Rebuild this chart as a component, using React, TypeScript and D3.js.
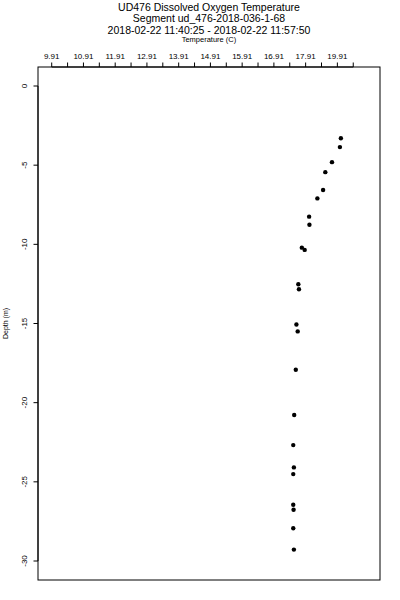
import React from 'react'
import { scaleLinear } from 'd3'

// readings off the profile, top to bottom
const depth = [
	-3.3, -3.86, -4.81, -5.44, -6.57, -7.1, -8.25, -8.76, -10.21, -10.35, -12.52,
	-12.84, -15.06, -15.5, -17.92, -20.78, -22.68, -24.09, -24.51, -26.45, -26.76,
	-27.93, -29.28,
]
const temperature = [
	19.02, 18.99, 18.74, 18.53, 18.46, 18.28, 18.02, 18.03, 17.79, 17.88, 17.68,
	17.7, 17.62, 17.66, 17.6, 17.55, 17.52, 17.54, 17.52, 17.52, 17.53, 17.52,
	17.54,
]
const xTicks = [
	9.91, 10.41, 10.91, 11.41, 11.91, 12.41, 12.91, 13.41, 13.91, 14.41, 14.91,
	15.41, 15.91, 16.41, 16.91, 17.41, 17.91, 18.41, 18.91, 19.41,
]
const xLabelAt = [9.91, 10.91, 11.91, 12.91, 13.91, 14.91, 15.91, 16.91, 17.91, 18.91]
const xLabels = ['9.91', '10.91', '11.91', '12.91', '13.91', '14.91', '15.91', '16.91', '17.91', '19.91']
const yTicks = [0, -5, -10, -15, -20, -25, -30]

const titles = [
	'UD476 Dissolved Oxygen Temperature',
	'Segment ud_476-2018-036-1-68',
	'2018-02-22 11:40:25 - 2018-02-22 11:57:50',
]

export default function App() {
	const width = 400
	const height = 600
	const left = 38
	const right = 380
	const top = 67
	const bottom = 580
	const font = 'Liberation Sans, Arial, Helvetica, sans-serif'

	const x = scaleLinear().domain([9.478, 20.253]).range([left, right])
	const y = scaleLinear().domain([1.2, -31.2]).range([top, bottom])
	const cx = (left + right) / 2
	const cy = (top + bottom) / 2

	return (
		<svg
			width={width}
			height={height}
			style={{ position: 'absolute', left: 0, top: 0, background: '#fff' }}
			fontFamily={font}
		>
			<rect x={0} y={0} width={width} height={height} fill="#fff" />
			{titles.map((t, i) => (
				<text key={t} x={cx} y={11 + i * 11.3} textAnchor="middle" fontSize={10.5}>
					{t}
				</text>
			))}
			<text x={cx} y={42} textAnchor="middle" fontSize={7.5}>
				Temperature (C)
			</text>

			{/* top axis */}
			<line
				x1={x(xTicks[0])}
				x2={x(xTicks[xTicks.length - 1])}
				y1={top}
				y2={top}
				stroke="#000"
			/>
			{xTicks.map((t) => (
				<line key={t} x1={x(t)} x2={x(t)} y1={top} y2={top - 4.5} stroke="#000" />
			))}
			{xLabelAt.map((t, i) => (
				<text key={t} x={x(t)} y={58.5} textAnchor="middle" fontSize={8}>
					{xLabels[i]}
				</text>
			))}

			{/* left axis */}
			<line x1={left} x2={left} y1={y(yTicks[0])} y2={y(yTicks[yTicks.length - 1])} stroke="#000" />
			{yTicks.map((t) => (
				<g key={t}>
					<line x1={left} x2={left - 4.5} y1={y(t)} y2={y(t)} stroke="#000" />
					<text
						transform={`translate(${left - 11},${y(t)}) rotate(-90)`}
						textAnchor="middle"
						fontSize={8}
					>
						{t === 0 ? '0' : '-' + Math.abs(t)}
					</text>
				</g>
			))}
			<text transform={`translate(8,${cy}) rotate(-90)`} textAnchor="middle" fontSize={7}>
				Depth (m)
			</text>

			<rect
				x={left}
				y={top}
				width={right - left}
				height={bottom - top}
				fill="none"
				stroke="#000"
			/>

			{depth.map((d, i) => (
				<circle key={i} cx={x(temperature[i])} cy={y(d)} r={2.2} fill="#000" />
			))}
		</svg>
	)
}
